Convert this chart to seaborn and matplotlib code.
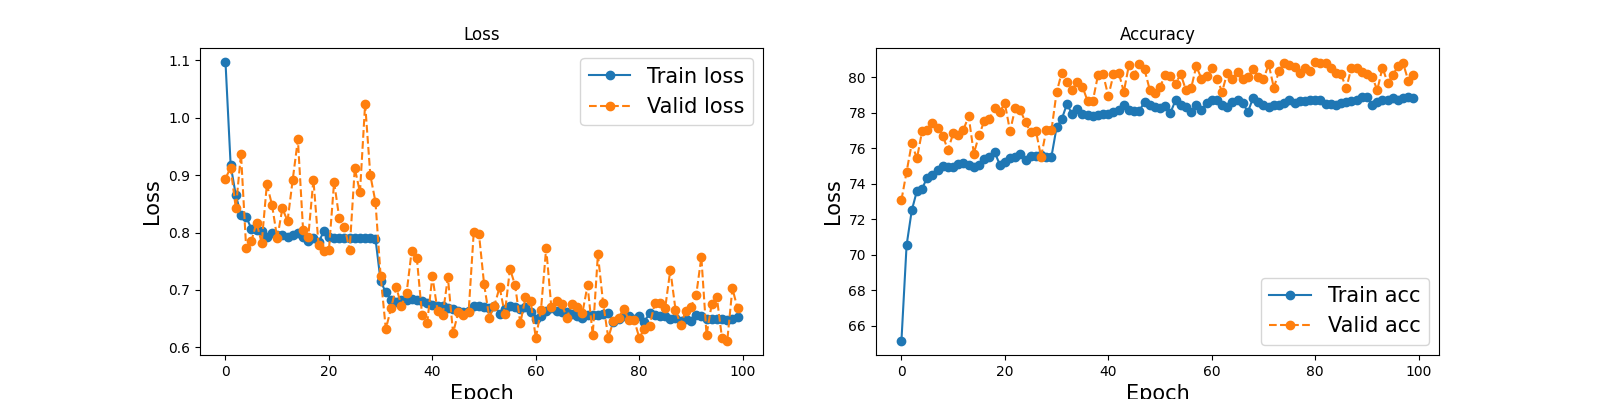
import matplotlib
matplotlib.use("Agg")
import matplotlib.pyplot as plt
import seaborn as sns
import numpy as np

epochs = list(range(100))

train_loss = [1.097, 0.917, 0.865, 0.831, 0.827, 0.807, 0.804, 0.802, 0.792, 0.800,
 0.795, 0.795, 0.792, 0.795, 0.800, 0.792, 0.785, 0.790, 0.783, 0.802,
 0.792, 0.790, 0.790, 0.790, 0.791, 0.790, 0.790, 0.790, 0.790, 0.789,
 0.715, 0.696, 0.682, 0.679, 0.682, 0.683, 0.685, 0.683, 0.680, 0.677,
 0.674, 0.673, 0.672, 0.668, 0.667, 0.664, 0.662, 0.664, 0.673, 0.673,
 0.670, 0.668, 0.672, 0.659, 0.667, 0.673, 0.670, 0.667, 0.670, 0.661,
 0.650, 0.655, 0.664, 0.668, 0.664, 0.661, 0.662, 0.659, 0.655, 0.652,
 0.656, 0.656, 0.656, 0.658, 0.660, 0.645, 0.650, 0.654, 0.655, 0.650,
 0.655, 0.645, 0.660, 0.656, 0.655, 0.654, 0.650, 0.652, 0.646, 0.650,
 0.646, 0.656, 0.655, 0.650, 0.650, 0.650, 0.650, 0.648, 0.650, 0.653]

valid_loss = [0.894, 0.913, 0.842, 0.937, 0.773, 0.785, 0.817, 0.782, 0.884, 0.848,
 0.790, 0.842, 0.820, 0.892, 0.962, 0.805, 0.792, 0.892, 0.778, 0.767,
 0.770, 0.888, 0.825, 0.810, 0.770, 0.912, 0.870, 1.024, 0.900, 0.853,
 0.724, 0.632, 0.668, 0.705, 0.673, 0.694, 0.768, 0.755, 0.657, 0.643,
 0.724, 0.664, 0.657, 0.722, 0.625, 0.661, 0.656, 0.661, 0.801, 0.798,
 0.710, 0.652, 0.673, 0.705, 0.658, 0.737, 0.708, 0.642, 0.687, 0.681,
 0.616, 0.666, 0.773, 0.670, 0.681, 0.675, 0.652, 0.675, 0.670, 0.660,
 0.708, 0.622, 0.762, 0.678, 0.617, 0.646, 0.652, 0.667, 0.648, 0.648,
 0.617, 0.632, 0.638, 0.677, 0.677, 0.668, 0.735, 0.666, 0.639, 0.664,
 0.671, 0.691, 0.757, 0.622, 0.675, 0.687, 0.616, 0.611, 0.703, 0.668]

train_acc = [65.14, 70.54, 72.50, 73.60, 73.73, 74.35, 74.48, 74.77, 74.99, 74.92,
 74.95, 75.10, 75.14, 75.05, 74.92, 75.05, 75.37, 75.48, 75.80, 75.08,
 75.23, 75.42, 75.48, 75.70, 75.33, 75.55, 75.55, 75.60, 75.48, 75.52,
 77.17, 77.64, 78.48, 77.92, 78.18, 77.95, 77.86, 77.80, 77.86, 77.92,
 77.95, 78.05, 78.14, 78.42, 78.14, 78.09, 78.10, 78.61, 78.42, 78.33,
 78.24, 78.37, 77.99, 78.70, 78.42, 78.33, 78.05, 78.42, 78.14, 78.52,
 78.70, 78.74, 78.42, 78.33, 78.61, 78.70, 78.52, 78.05, 78.84, 78.61,
 78.42, 78.33, 78.42, 78.42, 78.52, 78.74, 78.56, 78.65, 78.65, 78.74,
 78.70, 78.74, 78.48, 78.48, 78.42, 78.52, 78.61, 78.67, 78.70, 78.86,
 78.89, 78.42, 78.61, 78.70, 78.70, 78.80, 78.74, 78.80, 78.86, 78.80]

valid_acc = [73.08, 74.67, 76.27, 75.42, 76.96, 77.05, 77.39, 77.15, 76.70, 75.89,
 76.83, 76.77, 77.05, 77.80, 75.70, 76.72, 77.52, 77.65, 78.24, 78.05,
 78.52, 76.96, 78.24, 78.14, 77.45, 76.89, 76.98, 75.52, 77.00, 77.00,
 79.14, 80.26, 79.74, 79.30, 79.74, 79.46, 78.65, 78.65, 80.11, 80.15,
 78.93, 80.15, 80.26, 79.17, 80.71, 80.11, 80.73, 80.43, 79.30, 79.12,
 79.46, 80.11, 80.06, 79.64, 80.17, 79.27, 79.36, 80.62, 79.92, 80.06,
 80.49, 79.92, 79.17, 80.26, 79.92, 80.30, 79.87, 80.02, 80.43, 80.02,
 79.87, 80.73, 79.40, 80.34, 80.81, 80.68, 80.58, 80.26, 80.49, 80.34,
 80.86, 80.81, 80.77, 80.54, 80.26, 80.17, 79.36, 80.54, 80.49, 80.30,
 80.15, 80.02, 79.27, 80.54, 79.68, 80.11, 80.62, 80.77, 79.79, 80.11]

C0 = "#1f77b4"
C1 = "#ff7f0e"

fig, axes = plt.subplots(1, 2, figsize=(15.99, 3.99), dpi=100)

def draw(ax, tr, va, tr_label, va_label, title, loc):
    sns.lineplot(x=epochs, y=tr, ax=ax, color=C0, marker="o", markersize=6,
                 markeredgecolor=C0, markeredgewidth=1, linestyle="-",
                 linewidth=1.5, label=tr_label)
    sns.lineplot(x=epochs, y=va, ax=ax, color=C1, marker="o", markersize=6,
                 markeredgecolor=C1, markeredgewidth=1, linestyle="--",
                 linewidth=1.5, label=va_label)
    ax.set_title(title, fontsize=12)
    ax.set_xlabel("Epoch", fontsize=15)
    ax.set_ylabel("Loss", fontsize=15)
    ax.legend(loc=loc, fontsize=15)

draw(axes[0], train_loss, valid_loss, "Train loss", "Valid loss", "Loss", "upper right")
draw(axes[1], train_acc, valid_acc, "Train acc", "Valid acc", "Accuracy", "lower right")

fig.savefig("out.png", dpi=100)
